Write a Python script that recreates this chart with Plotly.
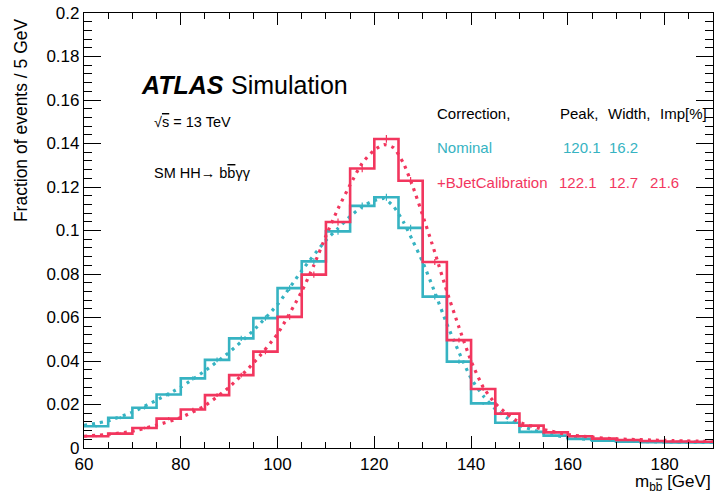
import plotly.graph_objects as go

# ---------------- data ----------------
bin_edges = [60, 65, 70, 75, 80, 85, 90, 95, 100, 105, 110, 115, 120, 125, 130,
             135, 140, 145, 150, 155, 160, 165, 170, 175, 180, 185, 190]

nominal_hist = [0.0100, 0.0139, 0.0185, 0.0246, 0.0320, 0.0405, 0.0504, 0.0597,
                0.0735, 0.0858, 0.0996, 0.1113, 0.1153, 0.1012, 0.0696, 0.0397,
                0.0205, 0.0116, 0.0074, 0.0057, 0.0042, 0.0034, 0.0029, 0.0027,
                0.0025, 0.0025]
bjet_hist = [0.0054, 0.0066, 0.0092, 0.0135, 0.0177, 0.0243, 0.0335, 0.0443,
             0.0603, 0.0797, 0.1039, 0.1285, 0.1421, 0.1229, 0.0855, 0.0496,
             0.0271, 0.0158, 0.0103, 0.0072, 0.0054, 0.0043, 0.0037, 0.0032,
             0.0030, 0.0029]
nominal_err = [0.0006, 0.0007, 0.0008, 0.0009, 0.0010, 0.0011, 0.0012, 0.0012,
               0.0013, 0.0014, 0.0015, 0.0016, 0.0016, 0.0015, 0.0013, 0.0010,
               0.0007, 0.0006, 0.0005, 0.0004, 0.0004, 0.0003, 0.0003, 0.0003,
               0.0003, 0.0003]
bjet_err = [0.0005, 0.0005, 0.0006, 0.0007, 0.0008, 0.0009, 0.0011, 0.0012,
            0.0013, 0.0014, 0.0016, 0.0017, 0.0018, 0.0017, 0.0014, 0.0011,
            0.0008, 0.0006, 0.0005, 0.0004, 0.0004, 0.0003, 0.0003, 0.0003,
            0.0003, 0.0003]

nominal_fit_x = [60, 65, 70, 75, 80, 85, 90, 95, 100, 105, 110, 112.5, 115, 117.5,
                 120, 122, 124, 126, 128, 130, 132.5, 135, 137.5, 140, 142.5, 145,
                 147.5, 150, 155, 160, 165, 170, 180, 190]
nominal_fit_y = [0.0104, 0.0125, 0.0165, 0.0220, 0.0280, 0.0355, 0.0440, 0.0540,
                 0.0660, 0.0815, 0.0955, 0.1010, 0.1065, 0.1110, 0.1138, 0.1147,
                 0.1110, 0.1040, 0.0950, 0.0855, 0.0716, 0.0570, 0.0440, 0.0320,
                 0.0240, 0.0180, 0.0138, 0.0105, 0.0068, 0.0048, 0.0039, 0.0033,
                 0.0028, 0.0026]

bjet_fit_x = [60, 65, 70, 75, 80, 85, 90, 95, 100, 105, 107.5, 110, 112.5, 115,
              117.5, 120, 122, 124, 126, 128, 130, 132.5, 135, 137.5, 140, 142.5,
              145, 147.5, 150, 155, 160, 165, 170, 180, 190]
bjet_fit_y = [0.0054, 0.0063, 0.0077, 0.0105, 0.0140, 0.0195, 0.0280, 0.0390,
              0.0525, 0.0720, 0.0840, 0.0975, 0.1100, 0.1210, 0.1310, 0.1370,
              0.1395, 0.1380, 0.1310, 0.1200, 0.1070, 0.0900, 0.0720, 0.0555,
              0.0400, 0.0280, 0.0205, 0.0155, 0.0118, 0.0085, 0.0062, 0.0050,
              0.0042, 0.0035, 0.0030]

y_tickvals = [0, 0.02, 0.04, 0.06, 0.08, 0.1, 0.12, 0.14, 0.16, 0.18, 0.2]
y_ticktext = ["0", "0.02", "0.04", "0.06", "0.08", "0.1", "0.12", "0.14", "0.16", "0.18", "0.2"]
x_tickvals = [60, 80, 100, 120, 140, 160, 180]
x_ticktext = ["60", "80", "100", "120", "140", "160", "180"]

legend_header = ["Correction,", "Peak,", "Width,", "Imp[%]"]
nominal_row = ["Nominal", "120.1", "16.2", ""]
bjet_row = ["+BJetCalibration", "122.1", "12.7", "21.6"]

# ---------------- style ----------------
CYAN = "#36b3c2"
RED = "#f2365e"
FONT = "Liberation Sans, Arial, Helvetica, sans-serif"
OV = "<span style='text-decoration:overline'>{}</span>"

W, H = 714, 493
L, R, T, B = 84, 712.7, 12.7, 448.3


def px(xp):
    return (xp - L) / (R - L)


def py(yp):
    return (B - yp) / (B - T)


fig = go.Figure()


def add_series(hist, err, fx, fy, color):
    centers = [(a + b) / 2 for a, b in zip(bin_edges[:-1], bin_edges[1:])]
    fig.add_trace(go.Scatter(
        x=fx, y=fy, mode="lines", line=dict(color=color, width=3.2, dash="3px,5px", shape="spline", smoothing=0.6),
        hoverinfo="skip", showlegend=False))
    fig.add_trace(go.Scatter(
        x=bin_edges, y=hist + [hist[-1]], mode="lines",
        line=dict(color=color, width=2.6, shape="hv"), showlegend=False))
    fig.add_trace(go.Scatter(
        x=centers, y=hist, mode="markers", marker=dict(size=1, color=color),
        error_y=dict(type="data", array=err, color=color, thickness=1.2, width=0),
        showlegend=False))


add_series(nominal_hist, nominal_err, nominal_fit_x, nominal_fit_y, CYAN)
add_series(bjet_hist, bjet_err, bjet_fit_x, bjet_fit_y, RED)

axis_common = dict(
    showline=True, linecolor="black", linewidth=1.2, mirror="allticks",
    ticks="inside", tickcolor="black", tickwidth=1.2, showgrid=False, zeroline=False,
    tickfont=dict(family=FONT, size=17, color="black"),
)

fig.update_xaxes(range=[60, 190], tickvals=x_tickvals, ticktext=x_ticktext, ticklen=12,
                 minor=dict(ticks="inside", dtick=5, tick0=60, ticklen=6, tickcolor="black", tickwidth=1.2, showgrid=False),
                 **axis_common)
fig.update_yaxes(range=[0, 0.2], tickvals=y_tickvals, ticktext=y_ticktext, ticklen=17,
                 minor=dict(ticks="inside", dtick=0.004, tick0=0, ticklen=8, tickcolor="black", tickwidth=1.2, showgrid=False),
                 **axis_common)

ann = []


def text(x, y, s, size, color="black", anchor="left", **kw):
    ann.append(dict(x=px(x), y=py(y), xref="paper", yref="paper", text=s, showarrow=False,
                    xanchor=anchor, yanchor="middle", font=dict(family=FONT, size=size, color=color), **kw))


text(139, 85, "<b><i>ATLAS</i></b>", 25)
text(229, 85, "Simulation", 25)
text(152, 122, "√" + OV.format("s") + " = 13 TeV", 14.5)
text(152, 173, "SM HH→ b" + OV.format("b") + "γγ", 14.5)

cols = [435, 558, 606, 658]
for c, s in zip(cols, legend_header):
    text(c, 113, s, 15)
num_cols = [435, 561, 607, 648]
for c, s in zip(num_cols, nominal_row):
    if s:
        text(c, 147, s, 15, CYAN)
num_cols2 = [435, 557, 607, 648]
for c, s in zip(num_cols2, bjet_row):
    text(c, 182, s, 15, RED)

# axis titles
text(21, 120, "Fraction of events / 5 GeV", 17.5, anchor="center", textangle=-90)
text(713, 483, "m<sub>b" + OV.format("b") + "</sub> [GeV]", 17, anchor="right")

fig.update_layout(
    width=W, height=H, margin=dict(l=L, r=W - R, t=T, b=H - B, pad=0),
    plot_bgcolor="white", paper_bgcolor="white", annotations=ann, showlegend=False,
    font=dict(family=FONT),
)

fig.write_html("out.html", config={"displayModeBar": False},
               post_script="document.body.style.margin='0px';document.body.style.overflow='hidden';")
